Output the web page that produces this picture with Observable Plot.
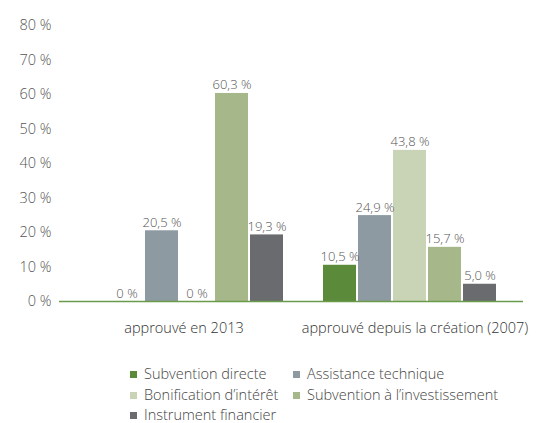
<!DOCTYPE html>
<html>
<head>
<meta charset="utf-8">
<script src="https://cdn.jsdelivr.net/npm/d3@7"></script>
<script src="https://cdn.jsdelivr.net/npm/@observablehq/plot@0.6"></script>
<style>
  body { margin: 0; background: #fff; font-family: "Open Sans", sans-serif; }
  #chart svg { display: block; }
  .legend { display: grid; grid-template-columns: 163px auto; margin-left: 130px; margin-top: 23px; row-gap: 0; }
  .legend div { font-size: 14.5px; line-height: 20.5px; color: #444; white-space: nowrap; font-weight: 300; }
  .legend span.sw { display: inline-block; width: 7px; height: 7px; margin-right: 7px; vertical-align: 1px; }
</style>
</head>
<body>
<div id="chart"></div>
<div class="legend" id="legend"></div>
<script>
const groups = ["approuvé en 2013", "approuvé depuis la création (2007)"];
const series = ["Subvention directe", "Assistance technique", "Bonification d’intérêt", "Subvention à l’investissement", "Instrument financier"];
const values2013 = [0, 20.5, 0, 60.3, 19.3];
const valuesSince = [10.5, 24.9, 43.8, 15.7, 5.0];
const colors = ["#5b8a3a", "#8d9aa2", "#c9d3b6", "#a6b78a", "#6a6b6f"];
const yTicks = [0, 10, 20, 30, 40, 50, 60, 70, 80];

const data = [];
series.forEach((s, i) => {
  data.push({group: groups[0], series: s, value: values2013[i]});
  data.push({group: groups[1], series: s, value: valuesSince[i]});
});
const fmt = v => v === 0 ? "0 %" : v.toFixed(1).replace(".", ",") + " %";
const base = {stroke: "#6a9a4a", strokeWidth: 1.5};

const chart = Plot.plot({
  width: 552,
  height: 341,
  marginTop: 25,
  marginBottom: 40,
  marginLeft: 59,
  marginRight: 29,
  style: {fontFamily: "Open Sans, sans-serif", color: "#555", background: "#fff", fontWeight: 300},
  fx: {domain: groups, range: [89.6, 516], padding: 0, label: null, axis: null},
  x: {domain: series, paddingInner: 0.07, paddingOuter: 0.54, axis: null},
  y: {domain: [0, 80], axis: null},
  color: {domain: series, range: colors},
  marks: [
    Plot.axisY({ticks: yTicks, tickSize: 0, tickPadding: 39, tickFormat: d => d + " %", fontSize: 14.5, label: null, fill: "#555"}),
    Plot.barY(data, {fx: "group", x: "series", y: "value", fill: "series"}),
    Plot.text(data, {fx: "group", x: "series", y: "value", text: d => fmt(d.value), lineAnchor: "bottom", dy: -4, fontSize: 13, fill: "#555"}),
    Plot.ruleY([groups[0]], {fx: d => d, y: () => 0, insetLeft: -31, ...base}),
    Plot.ruleY([groups[1]], {fx: d => d, y: () => 0, insetRight: -7, ...base}),
    Plot.text([groups[0]], {fx: d => d, text: d => d, frameAnchor: "bottom", lineAnchor: "middle", dy: 27, dx: -13, fontSize: 14.5, fill: "#333"}),
    Plot.text([groups[1]], {fx: d => d, text: d => d, frameAnchor: "bottom", lineAnchor: "middle", dy: 27, dx: 5, fontSize: 14.5, fill: "#333"})
  ]
});
document.getElementById("chart").appendChild(chart);

const legend = document.getElementById("legend");
series.forEach((s, i) => {
  const d = document.createElement("div");
  d.innerHTML = `<span class="sw" style="background:${colors[i]}"></span>${s}`;
  legend.appendChild(d);
});
</script>
</body>
</html>
